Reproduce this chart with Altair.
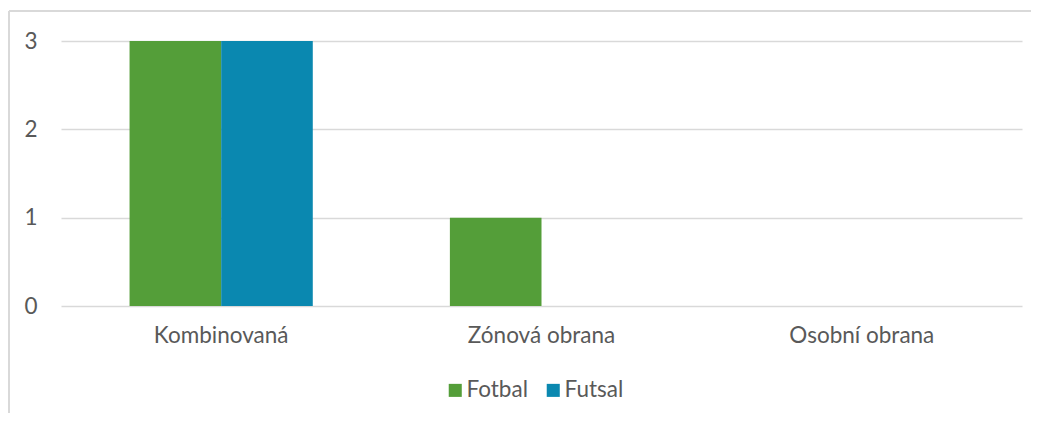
import altair as alt
import pandas as pd

categories = ["Kombinovaná", "Zónová obrana", "Osobní obrana"]
series = ["Fotbal", "Futsal"]
fotbal = [3, 1, 0]
futsal = [3, 0, 0]

rows = []
for i, c in enumerate(categories):
    rows.append({"cat": c, "series": "Fotbal", "value": fotbal[i]})
    rows.append({"cat": c, "series": "Futsal", "value": futsal[i]})
df = pd.DataFrame(rows)

FONT = "Lato"
GRAY = "#595959"
FS = 22.5

bars = alt.Chart(df).mark_bar().encode(
    x=alt.X("cat:N", sort=categories, title=None,
            scale=alt.Scale(paddingInner=0.428, paddingOuter=0.214),
            axis=alt.Axis(labelAngle=0, domain=False, ticks=False, labelPadding=18,
                          labelFontSize=FS, labelColor=GRAY, labelFont=FONT, grid=False)),
    xOffset=alt.XOffset("series:N", sort=series, scale=alt.Scale(paddingInner=0, paddingOuter=0)),
    y=alt.Y("value:Q", title=None,
            scale=alt.Scale(domain=[0, 3], nice=False),
            axis=alt.Axis(values=[0, 1, 2, 3], format="d", domain=False, ticks=False,
                          labelPadding=24, labelFontSize=FS, labelColor=GRAY, labelFont=FONT,
                          gridColor="#d9d9d9", gridWidth=1.5)),
    color=alt.Color("series:N", sort=series,
                    scale=alt.Scale(domain=series, range=["#549E39", "#0A88B0"]),
                    legend=alt.Legend(title=None, orient="none", direction="horizontal",
                                      legendX=383, legendY=338, symbolType="square",
                                      symbolSize=170, symbolStrokeWidth=0, labelFontSize=FS,
                                      labelColor=GRAY, labelFont=FONT, columnPadding=14,
                                      labelOffset=0, symbolOpacity=1)),
)

border = alt.Chart(df).mark_rule(color="#d9d9d9", strokeWidth=1.5).encode(
    x=alt.value(-52), x2=alt.value(1100), y=alt.value(-30)
)
border2 = alt.Chart(df).mark_rule(color="#d9d9d9", strokeWidth=1.5).encode(
    x=alt.value(-52), y=alt.value(-30), y2=alt.value(500)
)

chart = alt.layer(border, border2, bars).properties(
    width=961, height=265,
    padding={"left": 53, "top": 33, "right": 9, "bottom": 107},
    autosize=alt.AutoSizeParams(type="none"),
    background="white",
).configure_view(strokeWidth=0, stroke="transparent")

chart.save("out.html", embed_options={"renderer": "svg", "actions": False})
